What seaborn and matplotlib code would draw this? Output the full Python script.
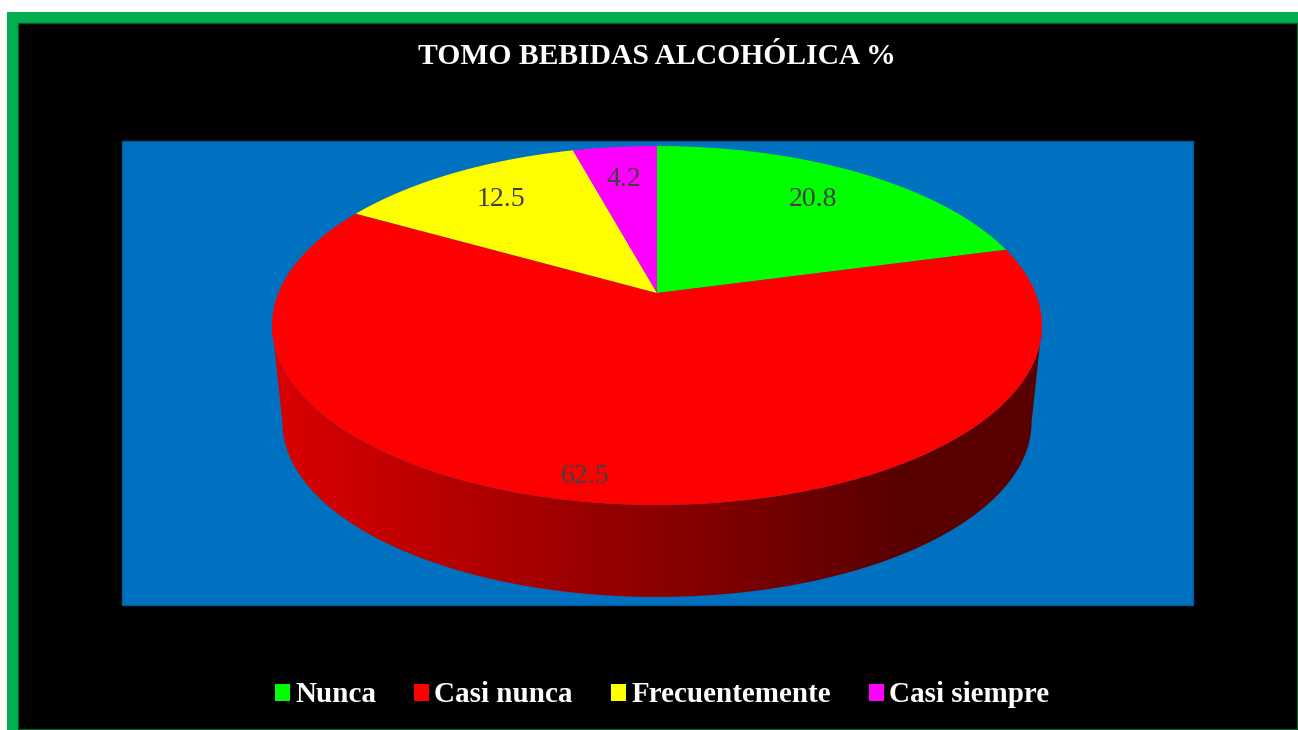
import matplotlib
matplotlib.use("Agg")
import matplotlib.pyplot as plt
import numpy as np
import seaborn as sns
from matplotlib.patches import Polygon, Rectangle, Patch

# data
categorias = ["Nunca", "Casi nunca", "Frecuentemente", "Casi siempre"]
porcentajes = [20.8, 62.5, 12.5, 4.2]
colores_hex = ["#00ff00", "#ff0000", "#ffff00", "#ff00ff"]
titulo = "TOMO BEBIDAS ALCOHÓLICA %"

sns.set_theme(style="white")
plt.rcParams["font.family"] = ["Liberation Serif", "DejaVu Serif"]
colores = sns.color_palette(colores_hex)

W, H = 1298, 730
fig = plt.figure(figsize=(W / 100, H / 100), dpi=100, facecolor="white")
ax = fig.add_axes([0, 0, 1, 1])
ax.set_xlim(0, W)
ax.set_ylim(H, 0)
ax.axis("off")

# marco verde + fondo negro + area azul
ax.add_patch(Rectangle((7, 12), W, H, facecolor="#00b050", edgecolor="none"))
ax.add_patch(Rectangle((18, 23), 1279, 706, facecolor="black", edgecolor="#0b5a2c", lw=1))
ax.add_patch(Rectangle((122, 141), 1071, 464, facecolor="#0070c0", edgecolor="#005a9e", lw=1))

# geometria del pastel 3D (proyeccion con perspectiva)
CX, CY, RX, RY, K = 657, 293, 378.6, 173.6, 0.181
CY_BOT, ESC_BOT = 390.7, 0.973


def proj(phi, f=1.0, cy=CY, esc=1.0):
    t = np.radians(phi)
    x, y = f * np.cos(t), f * np.sin(t)
    w = 1 + K * y
    return CX + esc * RX * x / w, cy - esc * RY * y / w


total = sum(porcentajes)
fin = 90 - 360 * np.cumsum(porcentajes) / total
ini = np.concatenate([[90], fin[:-1]])

# lado frontal visible
lim = np.degrees(np.arcsin(K))
frente = (-180 + lim, -lim)
for a0, a1, col in zip(ini, fin, colores):
    for shift in (-360, 0, 360):
        lo = max(a1 + shift, frente[0])
        hi = min(a0 + shift, frente[1])
        if hi <= lo:
            continue
        phis = np.linspace(hi, lo, 200)
        xt, yt = proj(phis)
        xb, yb = proj(phis[::-1], cy=CY_BOT, esc=ESC_BOT)
        pts = np.column_stack([np.concatenate([xt, xb]), np.concatenate([yt, yb])])
        poly = Polygon(pts, closed=True, facecolor="none", edgecolor="none")
        ax.add_patch(poly)
        xs = np.linspace(pts[:, 0].min(), pts[:, 0].max(), 400)
        fac = np.interp(xs, [272, 900], [0.86, 0.35])
        grad = np.array(col)[None, None, :] * fac[None, :, None]
        im = ax.imshow(grad, extent=(xs[0], xs[-1], pts[:, 1].max(), pts[:, 1].min()),
                       aspect="auto", interpolation="bilinear", zorder=2)
        im.set_clip_path(poly)

# cara superior
for a0, a1, col in zip(ini, fin, colores):
    phis = np.linspace(a0, a1, 200)
    xs, ys = proj(phis)
    pts = np.column_stack([np.concatenate([[CX], xs]), np.concatenate([[CY], ys])])
    ax.add_patch(Polygon(pts, closed=True, facecolor=col, edgecolor="none", zorder=3))

# etiquetas de datos
frac_etq = [0.75, 0.9, 0.75, 0.75]
desv_etq = [0, -2.9, 0, 0]
for a0, a1, v, f, d in zip(ini, fin, porcentajes, frac_etq, desv_etq):
    lx, ly = proj((a0 + a1) / 2 + d, f=f)
    ax.text(lx, ly, f"{v:.1f}", ha="center", va="center", fontsize=20,
            color="#404040", zorder=5)

ax.text(657, 56, titulo, ha="center", va="center", fontsize=21.3,
        fontweight="bold", color="white", zorder=5)

handles = [Patch(facecolor=c, edgecolor="none", label=l) for c, l in zip(colores, categorias)]
leg = fig.legend(handles=handles, loc="center", ncol=4, frameon=False,
                 bbox_to_anchor=(662 / W, 1 - 695 / H),
                 prop={"family": "Liberation Serif", "weight": "bold", "size": 21},
                 handlelength=0.53, handleheight=0.53, handletextpad=0.17,
                 columnspacing=1.3)
for t in leg.get_texts():
    t.set_color("white")

fig.savefig("out.png", dpi=100, facecolor="white")
